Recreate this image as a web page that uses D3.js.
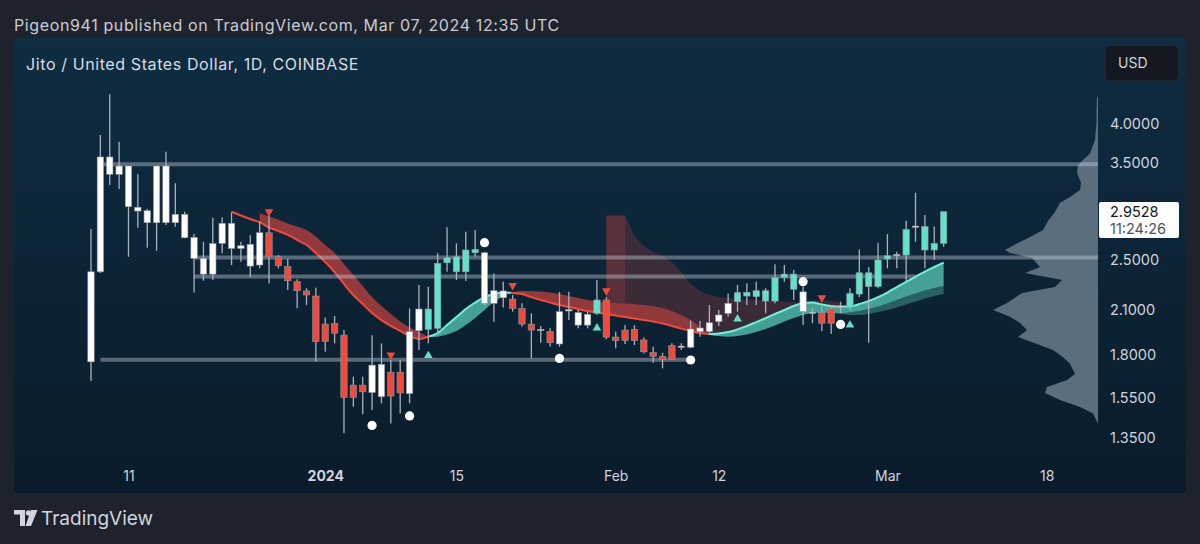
<!DOCTYPE html>
<html>
<head>
<meta charset="utf-8">
<script src="https://cdn.jsdelivr.net/npm/d3@7"></script>
<style>
  body { margin: 0; background: #1e222d; }
  svg { display: block; font-family: Inter, Roboto, "Noto Sans", sans-serif; }
</style>
</head>
<body>
<svg id="chart" width="1200" height="544"></svg>
<script>
// daily JTO/USD candles, Dec 7 2023 .. Mar 7 2024
const firstDay = "2023-12-07";
const open = [1.757, 2.399, 3.569, 3.361, 3.459, 2.999, 2.963, 2.843, 3.459, 2.843,
  2.927, 2.702, 2.513, 2.380, 2.647, 2.837, 2.601, 2.638, 2.456, 2.746,
  2.527, 2.442, 2.318, 2.245, 2.206, 2.002, 2.007, 1.927, 1.621, 1.621,
  1.580, 1.742, 1.695, 1.695, 1.574, 1.957, 1.966, 1.973, 2.475, 2.527,
  2.399, 2.562, 2.562, 2.151, 2.245, 2.183, 2.114, 2.002, 1.961, 1.950,
  1.869, 2.095, 2.083, 1.995, 2.078, 2.176, 1.914, 1.961, 1.966, 1.895,
  1.815, 1.791, 1.858, 1.850, 1.848, 1.950, 1.950, 2.019, 2.078, 2.163,
  2.235, 2.201, 2.247, 2.168, 2.352, 2.380, 2.238, 2.086, 2.083, 2.114,
  2.124, 2.121, 2.221, 2.391, 2.279, 2.507, 2.538, 2.542, 2.800, 2.806,
  2.587, 2.647];
const high = [2.781, 3.851, 4.434, 3.762, 3.459, 3.361, 2.981, 3.459, 3.634, 3.258,
  2.953, 2.734, 2.662, 2.892, 2.896, 2.947, 2.662, 2.725, 2.853, 2.920,
  2.542, 2.507, 2.337, 2.266, 2.270, 2.049, 2.058, 1.961, 1.668, 1.668,
  1.927, 1.873, 1.768, 1.768, 2.114, 2.292, 2.279, 2.557, 2.798, 2.647,
  2.755, 2.772, 2.571, 2.385, 2.318, 2.214, 2.151, 2.078, 1.988, 1.973,
  2.238, 2.238, 2.102, 2.090, 2.332, 2.196, 1.950, 1.995, 1.995, 1.912,
  1.851, 1.813, 1.873, 1.873, 2.025, 2.025, 2.138, 2.102, 2.226, 2.292,
  2.305, 2.318, 2.266, 2.462, 2.456, 2.414, 2.279, 2.114, 2.126, 2.138,
  2.163, 2.266, 2.593, 2.436, 2.653, 2.734, 2.571, 2.863, 3.153, 2.920,
  2.806, 2.953];
const low = [1.644, 2.389, 3.239, 3.195, 2.527, 2.794, 2.607, 2.580, 2.820, 2.804,
  2.694, 2.234, 2.326, 2.332, 2.557, 2.456, 2.484, 2.358, 2.428, 2.304,
  2.428, 2.252, 2.114, 2.138, 1.757, 1.819, 1.873, 1.372, 1.504, 1.466,
  1.487, 1.522, 1.420, 1.470, 1.522, 1.830, 1.873, 1.938, 2.399, 2.332,
  2.324, 2.527, 2.138, 2.019, 2.121, 2.090, 1.984, 1.778, 1.877, 1.851,
  1.851, 2.030, 1.973, 1.973, 2.066, 1.899, 1.841, 1.869, 1.862, 1.809,
  1.751, 1.718, 1.768, 1.830, 1.841, 1.916, 1.927, 1.988, 2.054, 2.090,
  2.138, 2.138, 2.078, 2.151, 2.318, 2.176, 1.995, 2.008, 1.955, 1.934,
  2.078, 2.097, 2.196, 1.877, 2.266, 2.428, 2.428, 2.318, 2.662, 2.428,
  2.499, 2.616];
const close = [2.399, 3.569, 3.361, 3.459, 3.005, 2.960, 2.843, 3.459, 2.843, 2.927,
  2.699, 2.513, 2.380, 2.644, 2.837, 2.601, 2.625, 2.447, 2.746, 2.527,
  2.450, 2.326, 2.247, 2.214, 1.884, 1.884, 1.940, 1.554, 1.554, 1.584,
  1.737, 1.557, 1.561, 1.578, 1.950, 2.109, 2.109, 2.470, 2.518, 2.399,
  2.587, 2.592, 2.151, 2.247, 2.193, 2.114, 2.002, 1.961, 1.966, 1.877,
  2.090, 2.105, 1.995, 2.071, 2.176, 1.914, 1.891, 1.891, 1.891, 1.819,
  1.791, 1.771, 1.771, 1.855, 1.968, 1.975, 2.011, 2.066, 2.151, 2.232,
  2.206, 2.247, 2.168, 2.350, 2.380, 2.258, 2.090, 2.080, 2.008, 2.008,
  2.131, 2.226, 2.391, 2.279, 2.499, 2.536, 2.547, 2.779, 2.810, 2.587,
  2.647, 2.9528];
// bar colouring of the indicator: w neutral, r bearish, t bullish
const trend = ("wwwwwwwwwwwwwwwwwww" + "rrrrrrrrrrr" + "wwrrww" + "tttttt" + "www" + "rrr" +
  "wr" + "wwww" + "t" + "rrrrrrrr" + "wwwwww" + "ttttttt" + "ww" + "rr" + "w" + "ttttt" + "wtwttt").split("");

// moving average ribbon (fast starts at bar 15, slow at bar 18)
const fastStart = 15;
const fastMA = [2.953, 2.915, 2.880, 2.850, 2.796, 2.762, 2.725, 2.678, 2.632, 2.560,
  2.482, 2.397, 2.300, 2.214, 2.146, 2.080, 2.030, 1.989, 1.955, 1.921,
  1.901, 1.917, 1.941, 1.995, 2.051, 2.109, 2.157, 2.198, 2.221, 2.233,
  2.230, 2.221, 2.198, 2.176, 2.157, 2.138, 2.124, 2.109, 2.095, 2.084,
  2.073, 2.062, 2.051, 2.041, 2.030, 2.020, 2.006, 1.989, 1.971, 1.955,
  1.941, 1.934, 1.938, 1.948, 1.965, 1.989, 2.016, 2.044, 2.073, 2.102,
  2.131, 2.153, 2.157, 2.142, 2.131, 2.127, 2.127, 2.146, 2.168, 2.198,
  2.233, 2.276, 2.316, 2.360, 2.401, 2.439, 2.477];
const slowStart = 18;
const slowMA = [2.937, 2.905, 2.875, 2.836, 2.806, 2.772, 2.710, 2.632, 2.560, 2.464,
  2.372, 2.284, 2.198, 2.131, 2.073, 2.020, 1.978, 1.948, 1.914, 1.917,
  1.931, 1.955, 1.995, 2.044, 2.102, 2.161, 2.206, 2.236, 2.245, 2.245,
  2.241, 2.233, 2.221, 2.206, 2.191, 2.176, 2.164, 2.157, 2.153, 2.149,
  2.146, 2.138, 2.131, 2.116, 2.095, 2.066, 2.030, 1.982, 1.930, 1.921,
  1.917, 1.921, 1.931, 1.948, 1.968, 1.992, 2.020, 2.044, 2.066, 2.080,
  2.084, 2.080, 2.080, 2.084, 2.095, 2.109, 2.127, 2.149, 2.176, 2.202,
  2.225, 2.248, 2.268, 2.284];
// upper edge of the bearish cloud (bars 55..80)
const cloudStart = 55;
const cloudTop = [2.915, 2.915, 2.915, 2.715, 2.623, 2.569, 2.534, 2.482, 2.397, 2.300,
  2.245, 2.214, 2.198, 2.191, 2.183, 2.179, 2.176, 2.172, 2.168, 2.164,
  2.161, 2.161, 2.176, 2.172, 2.168, 2.161];
const cloudCoreEnd = 57;
// lower trailing band under the bullish ribbon (bars 79..91)
const trailStart = 79;
const trail = [2.080, 2.073, 2.066, 2.066, 2.073, 2.087, 2.102, 2.120, 2.142, 2.164,
  2.187, 2.206, 2.221];

// signals
const sellBars = [19, 32, 45, 55, 78];
const sellPrice = [2.953, 1.799, 2.288, 2.247, 2.193];
const buyBars = [36, 54, 69, 81];
const buyPrice = [1.795, 1.975, 2.037, 1.995];
const dotBars = [30, 34, 42, 50, 64, 76, 80];
const dotPrice = [1.41, 1.457, 2.653, 1.778, 1.768, 2.318, 2.0];

// horizontal levels (end null = runs to the price scale)
const levelPrice = [3.48, 2.52, 2.36, 1.77];
const levelFrom = [1, 11, 11, 1];
const levelTo = [null, null, 88, 64];

// visible range volume profile
const profilePrice = [4.396, 4.199, 4.014, 3.785, 3.611, 3.532, 3.472, 3.378, 3.262, 3.184,
  3.108, 3.045, 2.950, 2.859, 2.772, 2.706, 2.651, 2.587, 2.561, 2.516,
  2.439, 2.389, 2.332, 2.276, 2.229, 2.153, 2.102, 2.054, 2.009, 1.961,
  1.914, 1.869, 1.830, 1.785, 1.746, 1.685, 1.650, 1.611, 1.577, 1.539,
  1.503, 1.469, 1.418];
const profileVol = [1, 1.5, 1.5, 3, 8, 15, 20, 21, 17, 18,
  28, 38, 43, 50, 55, 68, 80, 93, 88, 66,
  58, 73, 36, 43, 76, 91, 105, 88, 78, 71,
  80, 61, 45, 35, 28, 23, 31, 51, 53, 38,
  18, 5, 0];

const priceTicks = [4.0, 3.5, 2.5, 2.1, 1.8, 1.55, 1.35];
const dateTicks = ["2023-12-11", "2024-01-01", "2024-01-15", "2024-02-01", "2024-02-12", "2024-03-01", "2024-03-18"];
const dateLabels = ["11", "2024", "15", "Feb", "12", "Mar", "18"];
const lastPrice = 2.9528;
const countdown = "11:24:26";

const svg = d3.select("#chart");
const parse = d3.utcParse("%Y-%m-%d");
const dates = d3.utcDay.range(parse(firstDay), d3.utcDay.offset(parse(firstDay), open.length));

const x = d3.scaleUtc().domain([parse(firstDay), parse("2024-03-18")]).range([91, 1046.7]);
const y = d3.scaleLog().domain([1.35, 4.0]).range([438, 124]);

const colors = { w: "#ffffff", r: "#ee4a3d", t: "#62e2c9" };

// background
svg.append("rect").attr("width", 1200).attr("height", 544).attr("fill", "#1e222d");
const grad = svg.append("defs").append("linearGradient")
    .attr("id", "bg").attr("x1", 0).attr("y1", 0).attr("x2", 0).attr("y2", 1);
grad.append("stop").attr("offset", "0%").attr("stop-color", "#0f2c41");
grad.append("stop").attr("offset", "100%").attr("stop-color", "#0a1c2b");
svg.append("rect").attr("x", 14).attr("y", 38).attr("width", 1172).attr("height", 455)
    .attr("rx", 2).attr("fill", "url(#bg)");

svg.append("text").text("Pigeon941 published on TradingView.com, Mar 07, 2024 12:35 UTC")
    .attr("x", 14).attr("y", 31).attr("fill", "#c9ccd4")
    .style("font-size", "16px").style("letter-spacing", "0.62px");
svg.append("text").text("Jito / United States Dollar, 1D, COINBASE")
    .attr("x", 26).attr("y", 70).attr("fill", "#d8dbe2")
    .style("font-size", "16px").style("letter-spacing", "0.6px");

// volume profile
const vx = d3.scaleLinear().domain([0, d3.max(profileVol)]).range([0, 105]);
const profile = profilePrice.map((p, i) => ({ p, v: profileVol[i] }));
svg.append("path").datum(profile)
    .attr("fill", "#5a6e7e")
    .attr("d", d3.area().y(d => y(d.p)).x0(1098).x1(d => 1098 - vx(d.v)).curve(d3.curveLinear));

// ribbon points
const pts = [];
for (let i = 0; i < fastMA.length; i++) {
    const idx = fastStart + i;
    const s = idx - slowStart;
    pts.push({ t: dates[idx], f: fastMA[i], s: s >= 0 ? slowMA[s] : null, idx });
}
const lead = pts.filter(d => d.idx <= slowStart);
const both = pts.filter(d => d.s !== null);

function runsOf(points) {
    const lg = Math.log;
    const runs = [];
    let cur = null;
    points.forEach((p, k) => {
        const up = p.f >= p.s;
        if (!cur) { cur = { up, pts: [p] }; return; }
        if (up !== cur.up) {
            const a = points[k - 1];
            const da = lg(a.f) - lg(a.s), db = lg(p.f) - lg(p.s);
            const t = da / (da - db);
            const v = Math.exp(lg(a.f) + t * (lg(p.f) - lg(a.f)));
            const c = { t: new Date(+a.t + t * (p.t - a.t)), f: v, s: v };
            cur.pts.push(c);
            runs.push(cur);
            cur = { up, pts: [c, p] };
        } else {
            cur.pts.push(p);
        }
    });
    runs.push(cur);
    return runs;
}
const runs = runsOf(both);

// bearish cloud above the ribbon
const cloud = cloudTop.map((v, k) => {
    const idx = cloudStart + k;
    const f = fastMA[idx - fastStart], s = slowMA[idx - slowStart];
    return { t: dates[idx], top: v, bot: Math.max(f, s), idx };
});
const cloudArea = d3.area().x(d => x(d.t)).y0(d => y(d.bot)).y1(d => y(d.top));
svg.append("path").datum(cloud).attr("fill", "rgba(205,70,70,0.24)").attr("d", cloudArea);
svg.append("path").datum(cloud.filter(d => d.idx <= cloudCoreEnd))
    .attr("fill", "rgba(205,70,70,0.22)").attr("d", cloudArea);

// trailing band
const trailPts = trail.map((v, k) => {
    const idx = trailStart + k;
    return { t: dates[idx], a: slowMA[idx - slowStart], b: v };
});
svg.append("path").datum(trailPts).attr("fill", "rgba(98,226,201,0.32)")
    .attr("d", d3.area().x(d => x(d.t)).y0(d => y(d.b)).y1(d => y(d.a)).curve(d3.curveMonotoneX));

const band = d3.area().x(d => x(d.t)).y0(d => y(d.s)).y1(d => y(d.f)).curve(d3.curveMonotoneX);
const fastLine = d3.line().x(d => x(d.t)).y(d => y(d.f)).curve(d3.curveMonotoneX);

runs.forEach(r => {
    svg.append("path").datum(r.pts)
        .attr("fill", r.up ? "rgba(98,226,201,0.66)" : "rgba(214,68,64,0.66)")
        .attr("d", band);
});
svg.append("path").datum(lead).attr("fill", "none").attr("stroke", "#f04a3c")
    .attr("stroke-width", 2).attr("d", fastLine);
runs.forEach(r => {
    svg.append("path").datum(r.pts).attr("fill", "none")
        .attr("stroke", r.up ? "#74f0d8" : "#f04a3c")
        .attr("stroke-width", 2).attr("d", fastLine);
});

// horizontal levels
levelPrice.forEach((p, i) => {
    const x1 = levelTo[i] === null ? 1098 : x(dates[levelTo[i]]);
    svg.append("line")
        .attr("x1", x(dates[levelFrom[i]])).attr("x2", x1)
        .attr("y1", y(p)).attr("y2", y(p))
        .attr("stroke", "rgba(195,205,214,0.42)").attr("stroke-width", 4);
});

// candles
const bars = dates.map((d, i) => ({ d, o: open[i], h: high[i], l: low[i], c: close[i], k: trend[i] }));
const g = svg.append("g");
g.selectAll("line.wick").data(bars).join("line")
    .attr("x1", d => x(d.d)).attr("x2", d => x(d.d))
    .attr("y1", d => y(d.h)).attr("y2", d => y(d.l))
    .attr("stroke", "#aab2bb").attr("stroke-width", 1.3);
g.selectAll("rect.body").data(bars).join("rect")
    .attr("x", d => x(d.d) - 3.2).attr("width", 6.4)
    .attr("y", d => y(Math.max(d.o, d.c)))
    .attr("height", d => Math.max(1.2, y(Math.min(d.o, d.c)) - y(Math.max(d.o, d.c))))
    .attr("fill", d => colors[d.k])
    .attr("stroke", "#8d96a0").attr("stroke-width", 0.6);

// signals
const tri = d3.symbol(d3.symbolTriangle).size(32);
sellBars.forEach((b, i) => {
    svg.append("path").attr("d", tri())
        .attr("transform", `translate(${x(dates[b])},${y(sellPrice[i])}) rotate(180)`)
        .attr("fill", "#f04a3c");
});
buyBars.forEach((b, i) => {
    svg.append("path").attr("d", tri())
        .attr("transform", `translate(${x(dates[b])},${y(buyPrice[i])})`)
        .attr("fill", "#62e2c9");
});
dotBars.forEach((b, i) => {
    svg.append("circle").attr("cx", x(dates[b])).attr("cy", y(dotPrice[i]))
        .attr("r", 4.6).attr("fill", "#ffffff");
});

// price scale
const yAxis = svg.append("g").attr("transform", "translate(1102,0)")
    .call(d3.axisRight(y).tickValues(priceTicks).tickFormat(d3.format(".4f")).tickSize(0).tickPadding(8));
yAxis.select(".domain").remove();
yAxis.selectAll("text").attr("fill", "#d1d4dc").style("font-size", "14.5px").style("font-family", "Inter, Roboto, sans-serif");

// last price tag
svg.append("rect").attr("x", 1099).attr("y", 202).attr("width", 80).attr("height", 36)
    .attr("rx", 2).attr("fill", "#ffffff");
svg.append("text").text(d3.format(".4f")(lastPrice)).attr("x", 1110).attr("y", 217)
    .attr("fill", "#131722").style("font-size", "14.5px");
svg.append("text").text(countdown).attr("x", 1110).attr("y", 234)
    .attr("fill", "#50535e").style("font-size", "14.5px");

// currency button
svg.append("rect").attr("x", 1105).attr("y", 45).attr("width", 74).attr("height", 36)
    .attr("rx", 5).attr("fill", "#141821").attr("stroke", "#2a2e39");
svg.append("text").text("USD").attr("x", 1118).attr("y", 68)
    .attr("fill", "#d1d4dc").style("font-size", "14px");

// time scale
const xAxis = svg.append("g").attr("transform", "translate(0,468)")
    .call(d3.axisBottom(x).tickValues(dateTicks.map(parse)).tickSize(0).tickPadding(3)
        .tickFormat((d, i) => dateLabels[i]));
xAxis.select(".domain").remove();
xAxis.selectAll("text").attr("fill", "#d1d4dc").style("font-size", "14px")
    .style("font-family", "Inter, Roboto, sans-serif")
    .style("font-weight", (d, i) => dateLabels[i] === "2024" ? "700" : "400");

// TradingView mark
const logo = svg.append("g").attr("fill", "#d1d4dc");
logo.append("path").attr("d", "M14 510 H25 V526 H20 V514.5 H14 Z");
logo.append("circle").attr("cx", 28.5).attr("cy", 513).attr("r", 2.7);
logo.append("path").attr("d", "M31 510 H37.5 L31 526 H25.5 Z");
svg.append("text").text("TradingView").attr("x", 41).attr("y", 525)
    .attr("fill", "#d1d4dc").style("font-size", "19px");
</script>
</body>
</html>
